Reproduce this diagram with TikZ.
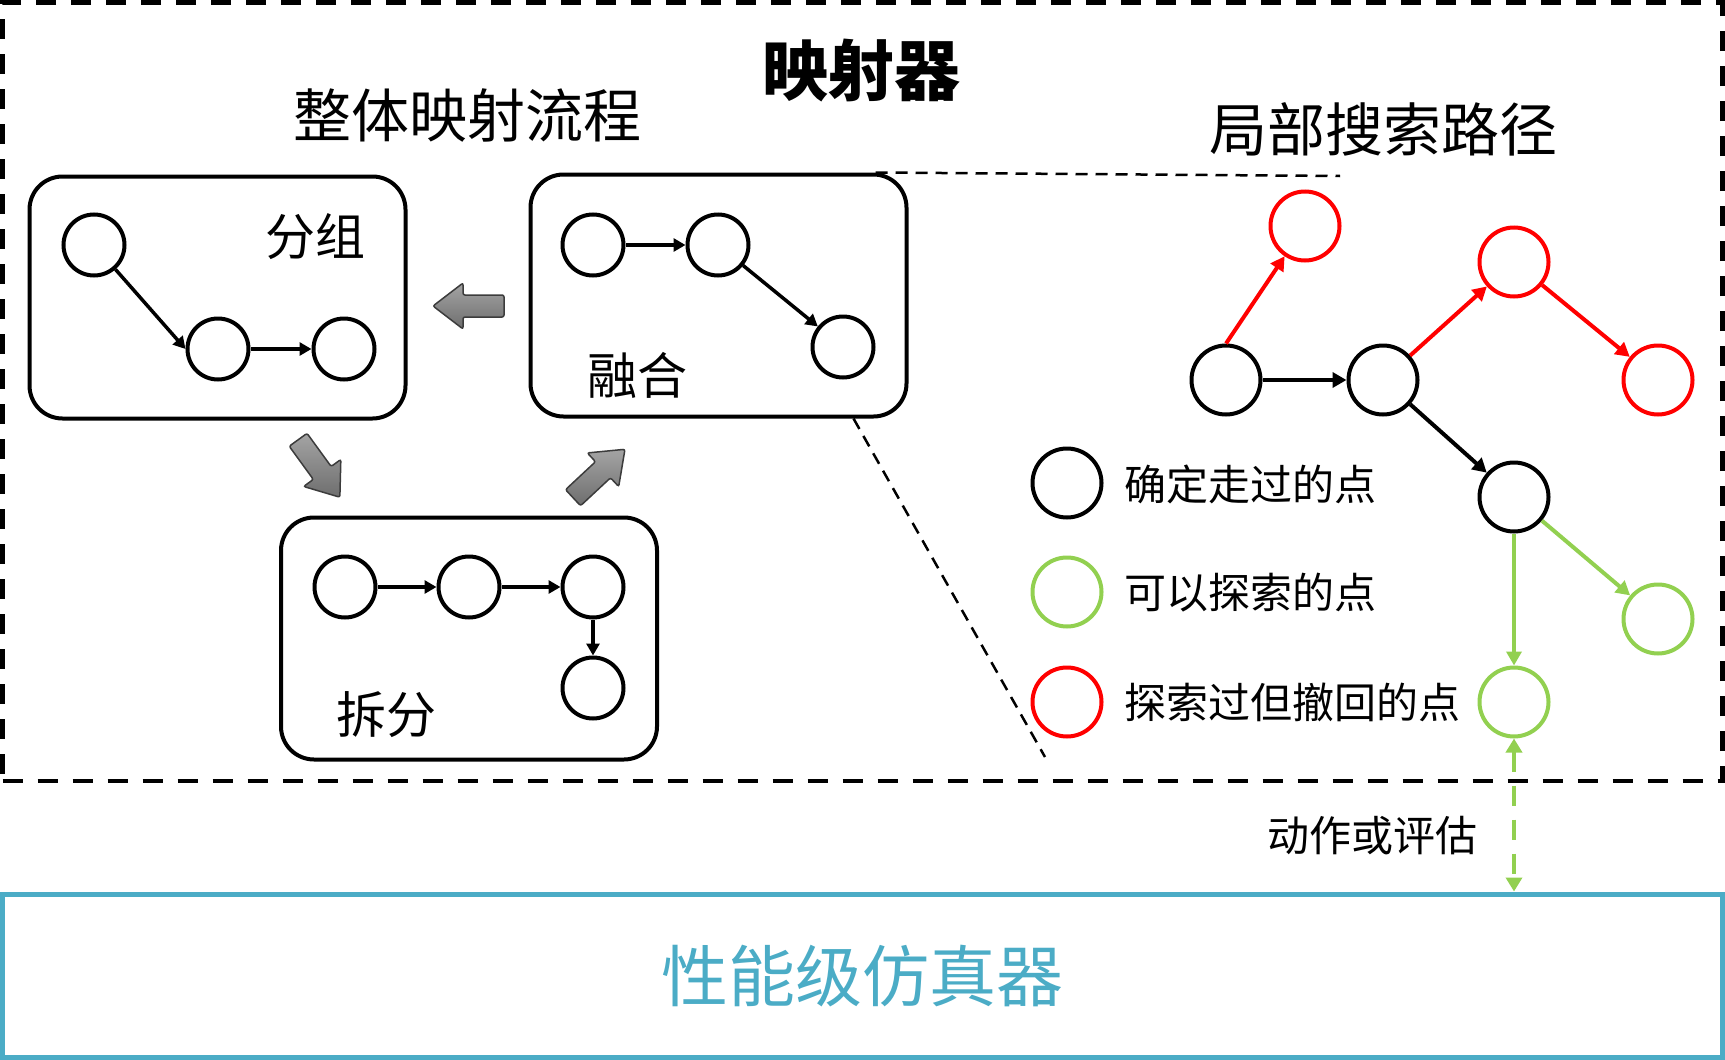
\documentclass[tikz,border=0pt]{standalone}
\usepackage{fontspec}
\newfontfamily\cjk{Noto Sans CJK SC}
\usetikzlibrary{arrows.meta,calc}
\definecolor{simblue}{HTML}{4BACC6}
\definecolor{okgreen}{HTML}{92D050}
\definecolor{arrowlight}{HTML}{A4A4A4}
\definecolor{arrowdark}{HTML}{6E6E6E}
\definecolor{arrowedge}{HTML}{3C3C3C}
\newcommand\mygrayarrow[2]{%
  \begin{scope}[shift={#1}, rotate=#2]
    \shade[blockarrow] (-35.5,-11) -- (5.5,-11) -- (5.5,-23) -- (35.5,0) -- (5.5,23) -- (5.5,11) -- (-35.5,11) -- cycle;
  \end{scope}}
\begin{document}
\begin{tikzpicture}[x=1pt,y=-1pt,
  every node/.style={font=\cjk},
  dot/.style={circle, draw, line width=4pt, minimum size=61pt, inner sep=0pt},
  tdot/.style={circle, draw, line width=4pt, minimum size=69pt, inner sep=0pt},
  groupbox/.style={draw, line width=4pt, rounded corners=33pt, minimum width=376pt, minimum height=242pt, inner sep=0pt},
  barrow/.style={line width=3.5pt, -{Triangle[length=12pt,width=13pt]}},
  tarrow/.style={line width=4pt, -{Triangle[length=14pt,width=15pt]}},
  callout/.style={line width=2.5pt, dash pattern=on 12pt off 8pt},
  blockarrow/.style={top color=arrowlight, bottom color=arrowdark, draw=arrowedge, line width=1.5pt, rounded corners=2pt},
  big/.style={font={\cjk\fontsize{58pt}{70pt}\selectfont}},
  mid/.style={font={\cjk\fontsize{50pt}{60pt}\selectfont}},
  small/.style={font={\cjk\fontsize{42pt}{50pt}\selectfont}},
]
\useasboundingbox (0,0) rectangle (1725,1060);

% outer frames
\node[draw, line width=4.5pt, dash pattern=on 20pt off 15pt, minimum width=1720pt, minimum height=778.5pt, inner sep=0pt] (frame) at (862.5,391.75) {};
\node[draw=simblue, line width=5pt, minimum width=1720pt, minimum height=163.5pt, inner sep=0pt,
      font={\cjk\fontsize{67pt}{80pt}\selectfont}, text=simblue] (sim) at (862.5,975.75) {性能级仿真器};

% titles
\node[font={\cjk\bfseries\fontsize{66pt}{80pt}\selectfont}] (title) at (861,71) {映射器};
\node[big] (flow) at (467,116) {整体映射流程};
\node[big] (local) at (1383,129) {局部搜索路径};

% group boxes
\node[groupbox] (box1) at (217.5,297.5) {};
\node[groupbox] (box2) at (718.5,295.5) {};
\node[groupbox] (box3) at (469,638.5) {};

\node[mid] (lab1) at (315,237) {分组};
\node[mid] (lab2) at (637,375) {融合};
\node[mid] (lab3) at (386,715) {拆分};

% box 1
\node[dot] (a1) at (94,245) {};
\node[dot] (a2) at (218,349) {};
\node[dot] (a3) at (344,349) {};
\draw[barrow] (a1) -- (a2.west);
\draw[barrow] (a2) -- (a3);
% box 2
\node[dot] (b1) at (593,245) {};
\node[dot] (b2) at (718,245) {};
\node[dot] (b3) at (843,347) {};
\draw[barrow] (b1) -- (b2);
\draw[barrow] (b2) -- (b3);
% box 3
\node[dot] (c1) at (345,587) {};
\node[dot] (c2) at (469,587) {};
\node[dot] (c3) at (593,587) {};
\node[dot] (c4) at (593,688) {};
\draw[barrow] (c1) -- (c2);
\draw[barrow] (c2) -- (c3);
\draw[barrow] (c3) -- (c4);

% gray block arrows
\mygrayarrow{(468.5,306)}{180}
\mygrayarrow{(599,473.5)}{43}
\mygrayarrow{(319,468.5)}{-54}

% callout lines
\coordinate (z1) at (1340,176);
\coordinate (z2) at (1045,757);
\draw[callout] ([xshift=-33pt]box2.north east) -- (z1);
\draw[callout] ([xshift=-55pt]box2.south east) -- (z2);

% search tree
\node[tdot] (t1) at (1226,380) {};
\node[tdot] (t2) at (1383,380) {};
\node[tdot] (t3) at (1514,497) {};
\node[tdot, draw=red] (r1) at (1305,226) {};
\node[tdot, draw=red] (r2) at (1514,262) {};
\node[tdot, draw=red] (r3) at (1658,380) {};
\node[tdot, draw=okgreen] (g1) at (1658,619) {};
\node[tdot, draw=okgreen] (g2) at (1514,702) {};
\draw[tarrow] (t1) -- (t2);
\draw[tarrow] (t2) -- (t3);
\draw[tarrow, red] (t1.north) -- (r1);
\draw[tarrow, red] (t2) -- (r2);
\draw[tarrow, red] (r2) -- (r3);
\draw[tarrow, okgreen] (t3) -- (g1);
\draw[tarrow, okgreen] (t3) -- (g2);

% legend
\node[tdot] (k1) at (1067,483) {};
\node[tdot, draw=okgreen] (k2) at (1067,592) {};
\node[tdot, draw=red] (k3) at (1067,702) {};
\node[small, anchor=west] (kt1) at (1121,484) {确定走过的点};
\node[small, anchor=west] (kt2) at (1121,593) {可以探索的点};
\node[small, anchor=west] (kt3) at (1121,702) {探索过但撤回的点};

% action / evaluation link
\draw[line width=4.5pt, okgreen, dash pattern=on 20pt off 14pt,
      {Triangle[length=14pt,width=16pt]}-{Triangle[length=14pt,width=16pt]}] (g2) -- (g2 |- sim.north);
\node[small] (act) at (1372,836) {动作或评估};
\end{tikzpicture}
\end{document}
